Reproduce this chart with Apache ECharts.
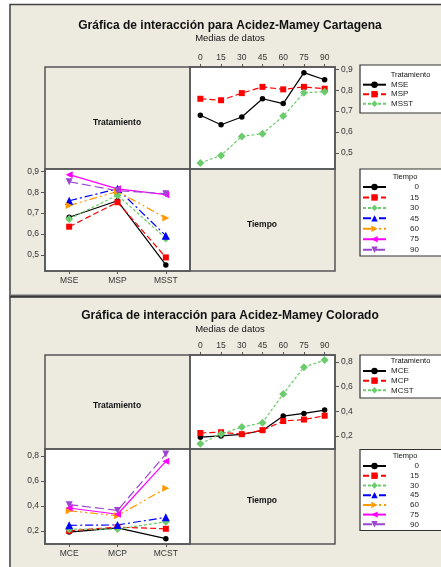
<!DOCTYPE html>
<html>
<head>
<meta charset="utf-8">
<script src="https://cdn.jsdelivr.net/npm/echarts@6/dist/echarts.min.js"></script>
<style>
html,body{margin:0;padding:0;background:#fff;}
#chart{width:441px;height:567px;}
</style>
</head>
<body>
<div id="chart"></div>
<script>
// ---- data ----
const timeLabels = ['0', '15', '30', '45', '60', '75', '90'];
const cartTreatments = ['MSE', 'MSP', 'MSST'];
const cartMSE  = [0.680, 0.635, 0.672, 0.759, 0.736, 0.884, 0.850];
const cartMSP  = [0.759, 0.752, 0.786, 0.816, 0.804, 0.816, 0.807];
const cartMSST = [0.452, 0.488, 0.579, 0.592, 0.676, 0.788, 0.793];
const colTreatments = ['MCE', 'MCP', 'MCST'];
const colMCE  = [0.190, 0.200, 0.213, 0.244, 0.361, 0.383, 0.410];
const colMCP  = [0.224, 0.230, 0.214, 0.247, 0.321, 0.333, 0.364];
const colMCST = [0.137, 0.216, 0.272, 0.308, 0.541, 0.758, 0.816];
const cartTicks = [0.5, 0.6, 0.7, 0.8, 0.9];
const colTicks = [0.2, 0.4, 0.6, 0.8];

// ---- styles ----
const FONT = 'Liberation Sans';
const triR = 'path://M0,0 L10,5 L0,10 Z';
const triL = 'path://M10,0 L0,5 L10,10 Z';
const triD = 'path://M0,0 L10,0 L5,10 Z';
const styles = [
  {color: '#000000', type: 'solid', symbol: 'circle', size: 5.5},
  {color: '#FF0000', type: [6, 3], symbol: 'rect', size: 6},
  {color: '#6CCB6C', type: [3, 2], symbol: 'diamond', size: 8},
  {color: '#0000FF', type: [8, 3, 2, 3], symbol: 'triangle', size: 8},
  {color: '#FF9900', type: [8, 3, 2, 3, 2, 3], symbol: triR, size: 7},
  {color: '#FF00FF', type: 'solid', symbol: triL, size: 7},
  {color: '#9B45D0', type: [9, 4], symbol: triD, size: 7}
];

function mkSeries(name, data, st, xi) {
  return {
    type: 'line', name: name, data: data,
    xAxisIndex: xi, yAxisIndex: xi,
    symbol: st.symbol, symbolSize: st.size,
    lineStyle: {color: st.color, width: 1.2, type: st.type},
    itemStyle: {color: st.color},
    animation: false, z: 3
  };
}

const cartByTreat = [cartMSE, cartMSP, cartMSST];
const colByTreat = [colMCE, colMCP, colMCST];
const series = [];
cartTreatments.forEach((t, i) => series.push(mkSeries(t, cartByTreat[i], styles[i], 0)));
timeLabels.forEach((t, j) => series.push(mkSeries(t, cartByTreat.map(a => a[j]), styles[j], 1)));
colTreatments.forEach((t, i) => series.push(mkSeries(t, colByTreat[i], styles[i], 2)));
timeLabels.forEach((t, j) => series.push(mkSeries(t, colByTreat.map(a => a[j]), styles[j], 3)));

const fmt = v => v.toFixed(1).replace('.', ',');
const axisLineS = {show: true, lineStyle: {color: '#555', width: 1.5}};
function xAx(gi, data, pos) {
  return {
    gridIndex: gi, type: 'category', data: data, position: pos, boundaryGap: true,
    axisLine: axisLineS,
    axisTick: {show: true, alignWithLabel: true, length: 3, lineStyle: {color: '#555'}},
    axisLabel: {margin: 5, fontSize: 8.5, color: '#333', fontFamily: FONT},
    splitLine: {show: false}
  };
}
function yAx(gi, pos, min, max, ticks) {
  return {
    gridIndex: gi, type: 'value', position: pos, min: min, max: max,
    axisLine: axisLineS,
    axisTick: {show: true, length: 4, customValues: ticks, lineStyle: {color: '#555'}},
    axisLabel: {margin: 6, fontSize: 8.5, color: '#333', fontFamily: FONT, customValues: ticks, formatter: fmt},
    splitLine: {show: false}
  };
}
const gridBase = {show: true, backgroundColor: '#fff', borderColor: '#555', borderWidth: 1.5, containLabel: false};

function legend(data, top, gap, right) {
  const l = {
    data: data, orient: 'vertical', left: 362, top: top, padding: 0,
    itemWidth: 23, itemHeight: 8, itemGap: gap,
    textStyle: {fontSize: 8, color: '#222', fontFamily: FONT, lineHeight: 8},
    selectedMode: false
  };
  if (right) {
    l.formatter = n => '{r|' + n + '}';
    l.textStyle = {fontSize: 8, color: '#222', fontFamily: FONT, lineHeight: 8, width: 28,
      rich: {r: {fontSize: 8, color: '#222', fontFamily: FONT, align: 'right', width: 28, lineHeight: 8}}};
  }
  return l;
}

function txt(x, y, s, size, bold, align) {
  return {type: 'text', x: x, y: y, z: 5, style: {text: s, fontSize: size, fontWeight: bold ? 'bold' : 'normal',
    fontFamily: FONT, fill: '#111', align: align || 'center', verticalAlign: 'middle'}};
}
function box(x, y, w, h, fill, stroke, lw) {
  return {type: 'rect', shape: {x: x, y: y, width: w, height: h}, z: 1,
    style: {fill: fill, stroke: stroke, lineWidth: lw}};
}

const graphic = [
  box(0, 0, 9, 567, '#fff', null, 0),
  box(0, 0, 441, 4, '#fff', null, 0),
  box(10, 4.5, 440, 291, null, '#444', 1.5),
  box(10, 296.5, 440, 280, null, '#444', 1.5),
  {type: 'line', shape: {x1: 10, y1: 295, x2: 441, y2: 295}, z: 1, style: {stroke: '#999', lineWidth: 1}},
  {type: 'line', shape: {x1: 10, y1: 296.8, x2: 441, y2: 296.8}, z: 1, style: {stroke: '#3a3a3a', lineWidth: 2}},
  box(45, 67, 145, 102, null, '#555', 1.5),
  box(190, 169, 145, 102, null, '#555', 1.5),
  box(45, 355, 145, 94, null, '#555', 1.5),
  box(190, 449, 145, 95, null, '#555', 1.5),
  box(360, 65, 100, 48, '#fff', '#333', 1.2),
  box(360, 169, 100, 87, '#fff', '#333', 1.2),
  box(360, 355, 100, 43, '#fff', '#333', 1.2),
  box(360, 449.5, 100, 81, '#fff', '#333', 1.2),
  txt(230, 26, 'Gráfica de interacción para Acidez-Mamey Cartagena', 12, true),
  txt(230, 38.5, 'Medias de datos', 9.5, false),
  txt(230, 316, 'Gráfica de interacción para Acidez-Mamey Colorado', 12, true),
  txt(230, 329, 'Medias de datos', 9.5, false),
  txt(117, 123, 'Tratamiento', 8.5, true),
  txt(262, 225, 'Tiempo', 8.5, true),
  txt(117, 406, 'Tratamiento', 8.5, true),
  txt(262, 501, 'Tiempo', 8.5, true),
  txt(410.5, 74.5, 'Tratamiento', 7.5, false),
  txt(405, 176.5, 'Tiempo', 7.5, false),
  txt(410.5, 361, 'Tratamiento', 7.5, false),
  txt(405, 456, 'Tiempo', 7.5, false)
];

const option = {
  backgroundColor: '#EDEAE0',
  animation: false,
  textStyle: {fontFamily: FONT},
  grid: [
    Object.assign({left: 190, top: 67, width: 145, height: 102}, gridBase),
    Object.assign({left: 45, top: 169, width: 145, height: 102}, gridBase),
    Object.assign({left: 190, top: 355, width: 145, height: 94}, gridBase),
    Object.assign({left: 45, top: 449, width: 145, height: 95}, gridBase)
  ],
  xAxis: [
    xAx(0, timeLabels, 'top'),
    xAx(1, cartTreatments, 'bottom'),
    xAx(2, timeLabels, 'top'),
    xAx(3, colTreatments, 'bottom')
  ],
  yAxis: [
    yAx(0, 'right', 0.423, 0.911, cartTicks),
    yAx(1, 'left', 0.423, 0.911, cartTicks),
    yAx(2, 'right', 0.094, 0.857, colTicks),
    yAx(3, 'left', 0.094, 0.857, colTicks)
  ],
  legend: [
    legend(cartTreatments, 80.7, 1.5, false),
    legend(timeLabels, 183, 2.45, true),
    legend(colTreatments, 367, 1.65, false),
    legend(timeLabels, 462, 1.72, true)
  ],
  graphic: graphic,
  series: series
};

const chart = echarts.init(document.getElementById('chart'), null, {renderer: 'canvas'});
chart.setOption(option);
</script>
</body>
</html>
